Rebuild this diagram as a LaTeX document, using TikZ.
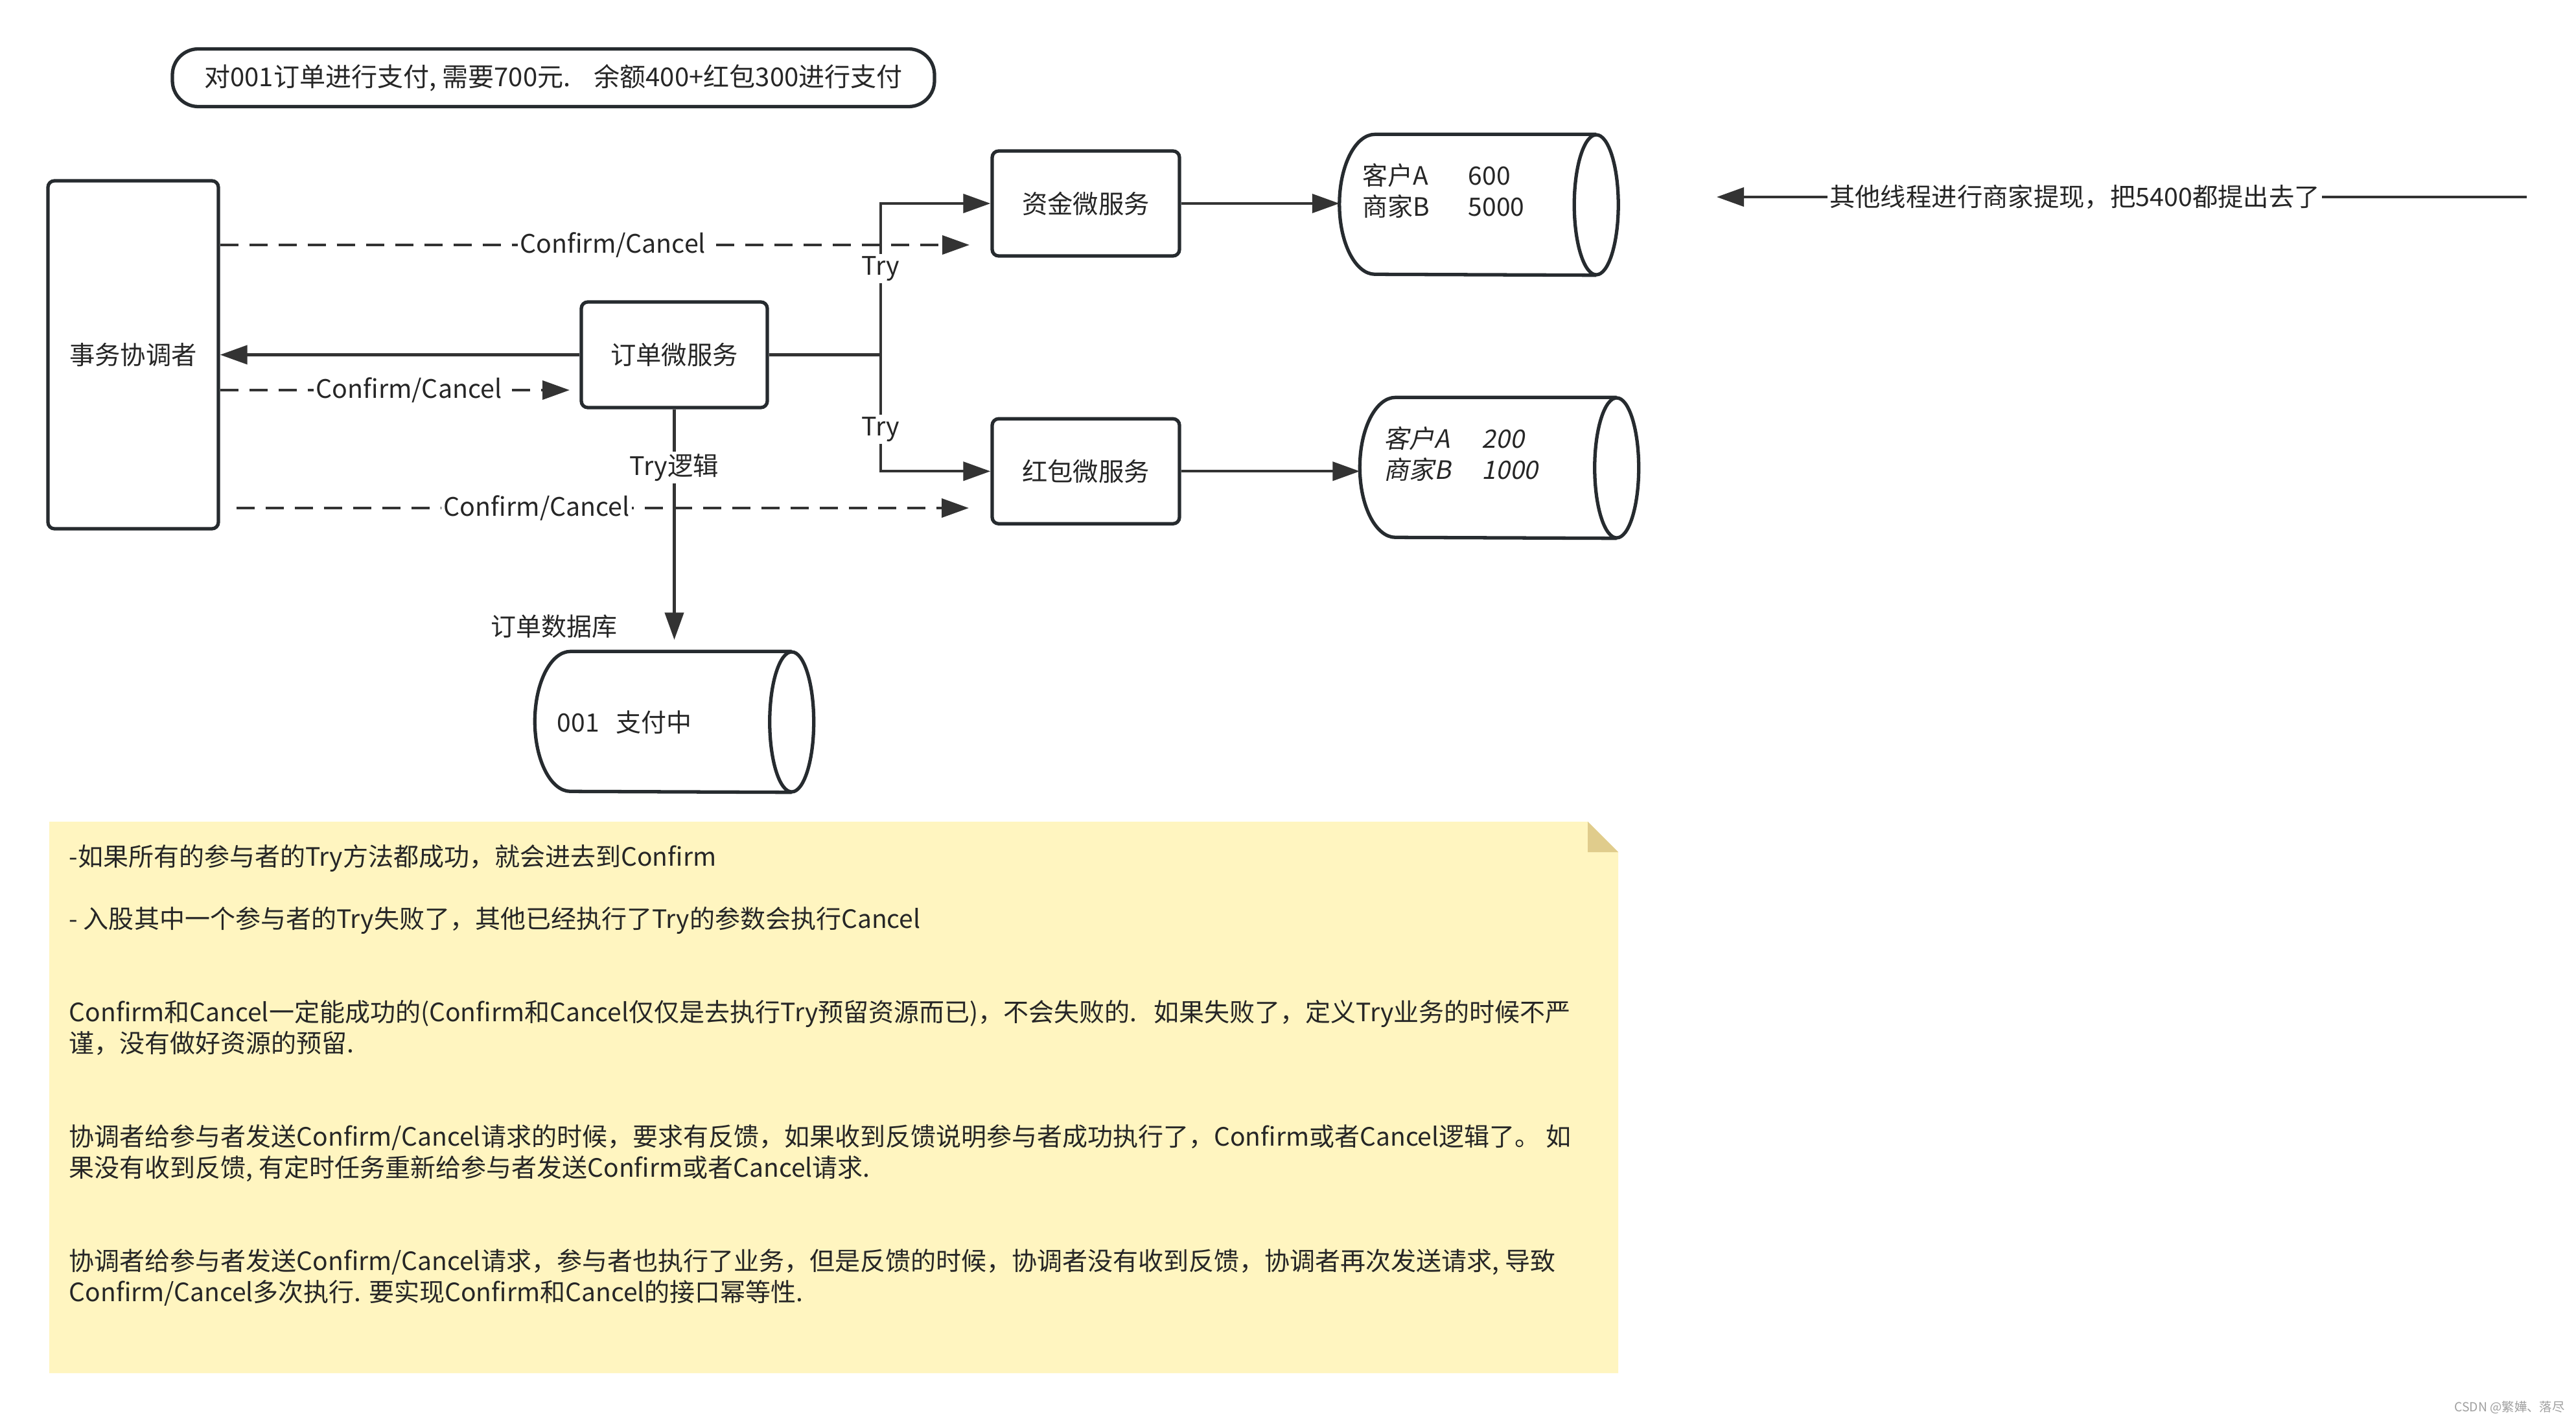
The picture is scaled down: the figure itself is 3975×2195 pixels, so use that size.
\documentclass[tikz,border=0pt]{standalone}
\usepackage{fontspec}
\setmainfont{Noto Sans CJK SC}
\newfontfamily\cjkslant[FakeSlant=0.2]{Noto Sans CJK SC}
\usepackage{tikz}
\usetikzlibrary{arrows.meta,positioning,calc}
\definecolor{TccLine}{HTML}{262B2F}
\definecolor{TccArrow}{HTML}{333333}
\definecolor{TccText}{HTML}{262626}
\definecolor{NoteFill}{HTML}{FFF5C0}
\definecolor{NoteFold}{HTML}{E0CC8C}
\definecolor{MarkGray}{HTML}{A0A0A0}
\tikzset{
  svcbox/.style={draw=TccLine,line width=1.5pt,rounded corners=1mm,fill=white,align=center,minimum width=28.9mm,minimum height=16.2mm,font=\fontsize{11.2pt}{13pt}\selectfont,text=TccText},
  dbbox/.style={minimum width=42.9mm,minimum height=21.6mm,inner sep=0pt},
  dbline/.style={draw=TccLine,line width=1.5pt},
  tryarrow/.style={-{Triangle[length=4.2mm,width=2.9mm]},line width=1.2pt,draw=TccArrow},
  cfarrow/.style={tryarrow,dash pattern=on 2.8mm off 1.7mm},
  edgelabel/.style={fill=white,inner sep=1pt,font=\fontsize{11.2pt}{13pt}\selectfont,text=TccText},
  plaintext/.style={inner sep=0pt,font=\fontsize{11.1pt}{4.8mm}\selectfont,text=TccText,align=left}
}
\newcommand{\dbdraw}[1]{%
  \draw[dbline] ([xshift=-3.4mm]#1.north east) -- ([xshift=5.5mm]#1.north west)
    arc[start angle=90,end angle=270,x radius=5.5mm,y radius=10.8mm]
    -- ([xshift=-3.4mm]#1.south east);
  \draw[dbline] ([xshift=-3.4mm]#1.east) ellipse[x radius=3.4mm,y radius=10.8mm];}

\begin{document}
\begin{tikzpicture}[x=0.1mm,y=-0.1mm]
\fill[white] (0,0) rectangle (3975,2195);
\useasboundingbox (0,0) rectangle (3975,2195);

\node[draw=TccLine,line width=1.5pt,rounded corners=4mm,minimum width=117.6mm,minimum height=8.9mm,font=\fontsize{11.4pt}{13pt}\selectfont,text=TccText] (task) at (854,120) {对001订单进行支付, 需要700元.\hspace{3.6mm}余额400+红包300进行支付};

\node[svcbox,minimum width=26.3mm,minimum height=53.7mm] (coord) at (205.5,547.5) {事务协调者};
\node[svcbox,minimum width=28.7mm,minimum height=16.3mm] (orderSvc) at (1040.5,547.5) {订单微服务};
\node[svcbox] (fundSvc) at (1675.5,314) {资金微服务};
\node[svcbox,below=24.6mm of fundSvc] (redSvc) {红包微服务};

\node[dbbox] (fundDB) at (2282,316) {};
\node[dbbox] (redDB) at (2313.5,722) {};
\node[dbbox] (orderDB) at (1040.5,1114) {};
\dbdraw{fundDB}
\dbdraw{redDB}
\dbdraw{orderDB}
\node[plaintext,anchor=west] (fundData) at (2102,294) {\makebox[16.3mm][l]{客户A}600\\\makebox[16.3mm][l]{商家B}5000};
\node[plaintext,anchor=west,font=\cjkslant\fontsize{11.1pt}{4.8mm}\selectfont] (redData) at (2135,700) {\makebox[15.1mm][l]{客户A}200\\\makebox[15.1mm][l]{商家B}1000};
\node[plaintext,anchor=west] (orderData) at (859,1115) {001\hspace{2.6mm}支付中};
\node[plaintext] (orderDBname) at (855,967) {订单数据库};

\draw[tryarrow] (orderSvc.west) -- (coord.east);
\coordinate (split) at (1359,547.5);
\draw[tryarrow] (orderSvc.east) -- (split) |- node[edgelabel,pos=0.285]{Try} (fundSvc.west);
\draw[tryarrow] (split) |- node[edgelabel,pos=0.32]{Try} (redSvc.west);
\draw[tryarrow] (fundSvc.east) -- (fundSvc.east -| fundDB.west);
\draw[tryarrow] (redSvc.east) -- (redSvc.east -| redDB.west);
\draw[tryarrow,shorten >=1.8mm] (orderSvc.south) -- node[edgelabel,pos=0.24]{Try逻辑} (orderDB.north);

\coordinate (cf1) at (1496,378);
\coordinate (cf2) at (879,602);
\coordinate (cf3) at (1495,784);
\draw[cfarrow] (coord.east |- cf1) -- node[edgelabel,pos=0.524]{Confirm/Cancel} (cf1);
\draw[cfarrow] (coord.east |- cf2) -- node[edgelabel,pos=0.54]{Confirm/Cancel} (cf2);
\draw[cfarrow] ($(coord.east |- cf3)+(25,0)$) -- node[edgelabel,pos=0.41]{Confirm/Cancel} (cf3);

\coordinate (wdStart) at (3899,304);
\coordinate (wdEnd) at (2649,304);
\draw[tryarrow] (wdStart) -- node[edgelabel,pos=0.558]{其他线程进行商家提现，把5400都提出去了} (wdEnd);

\fill[NoteFill] (76,1268) -- (2450,1268) -- (2497,1315) -- (2497,2119) -- (76,2119) -- cycle;
\fill[NoteFold] (2450,1268) -- (2450,1315) -- (2497,1315) -- cycle;
\node[plaintext,anchor=north west] (noteText) at (106,1303) {-如果所有的参与者的Try方法都成功，就会进去到Confirm\\[4.8mm]
- 入股其中一个参与者的Try失败了，其他已经执行了Try的参数会执行Cancel\\[9.6mm]
Confirm和Cancel一定能成功的(Confirm和Cancel仅仅是去执行Try预留资源而已)，不会失败的.\hspace{2.6mm}如果失败了，定义Try业务的时候不严\\
谨，没有做好资源的预留.\\[9.6mm]
协调者给参与者发送Confirm/Cancel请求的时候，要求有反馈，如果收到反馈说明参与者成功执行了，Confirm或者Cancel逻辑了。 如\\
果没有收到反馈, 有定时任务重新给参与者发送Confirm或者Cancel请求.\\[9.6mm]
协调者给参与者发送Confirm/Cancel请求，参与者也执行了业务，但是反馈的时候，协调者没有收到反馈，协调者再次发送请求, 导致\\
Confirm/Cancel多次执行. 要实现Confirm和Cancel的接口幂等性.};

\node[font=\fontsize{5.5pt}{6pt}\selectfont,text=MarkGray,anchor=east,inner sep=0pt] (mark) at (3958,2172) {CSDN @繁嬅、落尽};
\end{tikzpicture}
\end{document}
